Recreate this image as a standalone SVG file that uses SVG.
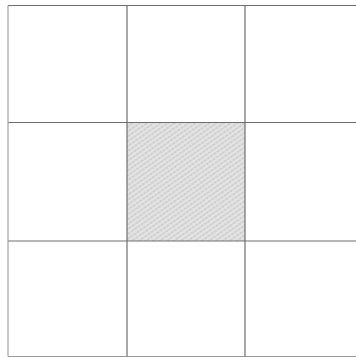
<svg xmlns="http://www.w3.org/2000/svg" width="356" height="358" viewBox="0 0 356 358">
<defs>
<style>
.g{stroke:#6e6e6e;stroke-width:1.2;fill:none}
.gl{stroke:#9a9a9a;stroke-width:1.1;fill:none}
</style>
<pattern id="hatch" width="4" height="4" patternUnits="userSpaceOnUse" patternTransform="rotate(-35)">
<rect width="4" height="4" fill="#e4e4e4"/>
<line x1="0" y1="1" x2="4" y2="1" stroke="#b8b8b8" stroke-width="1" stroke-dasharray="1.5 1"/>
</pattern>
</defs>
<rect width="356" height="358" fill="#fff"/>
<g id="center-cell">
<rect x="127" y="122.5" width="118" height="118.5" fill="url(#hatch)"/>
</g>
<g id="grid">
<line class="g" x1="8" y1="5.5" x2="356" y2="5.5"/>
<line class="g" x1="8" y1="122.5" x2="356" y2="122.5"/>
<line class="g" x1="8" y1="241" x2="356" y2="241"/>
<line class="gl" x1="8" y1="356.5" x2="356" y2="356.5"/>
<line class="gl" x1="8" y1="5.5" x2="8" y2="356.5"/>
<line class="g" x1="127" y1="5.5" x2="127" y2="356.5"/>
<line class="g" x1="245" y1="5.5" x2="245" y2="356.5"/>
</g>
</svg>
